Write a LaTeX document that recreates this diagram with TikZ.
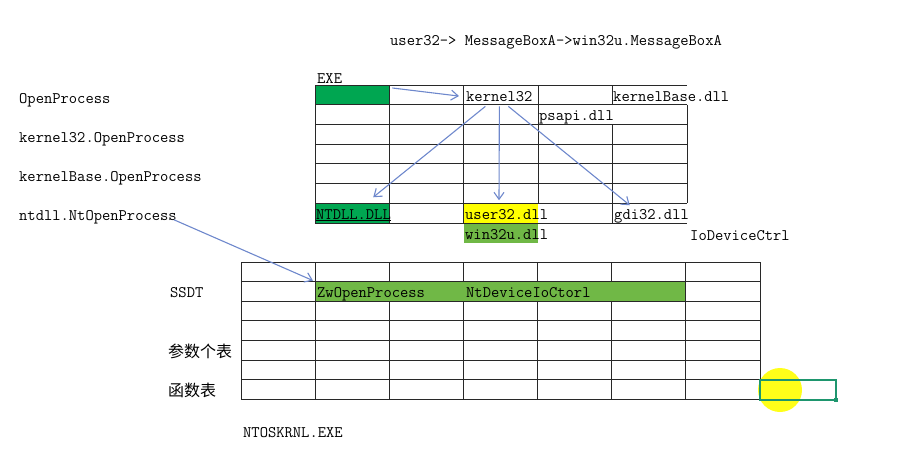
\documentclass[tikz,border=0pt]{standalone}
\usepackage{fontspec}
\newfontfamily\cjkfont{Noto Sans CJK SC}
\usetikzlibrary{positioning,
        arrows.meta,
        fit}
\usepackage{xcolor}
\definecolor{exegreen}{RGB}{0,166,81}
\definecolor{rowgreen}{RGB}{112,184,70}
\definecolor{hiyellow}{RGB}{255,255,0}
\definecolor{arrowblue}{RGB}{110,136,204}
\definecolor{selgreen}{RGB}{30,150,110}
\definecolor{gridgray}{RGB}{40,40,40}

\begin{document}
\begin{tikzpicture}[x=1pt,y=-1pt,
        cell/.style={minimum width=74.4pt,minimum height=19.7pt,inner sep=0pt,outer sep=0pt},
        txt/.style={anchor=base west,inner sep=0pt,font=\ttfamily\fontsize{16.1}{18}\selectfont},
        cjk/.style={anchor=base west,inner sep=0pt,font=\cjkfont\fontsize{16}{18}\selectfont},
        gridline/.style={draw=gridgray,line width=0.9pt},
        arr/.style={draw=arrowblue,line width=1.1pt,-{Straight Barb[length=7pt,width=10pt]}}]
        \useasboundingbox (0,0) rectangle (904,455);

        \node [cell,fill=exegreen] (exe) at (352.2,94.85) {};
        \node [cell,fill=exegreen] (ntdllcell) at (352.2,213.1) {};
        \node [cell,fill=hiyellow] (user32cell) at (501,213.1) {};
        \node [cell,fill=rowgreen] (win32ucell) at (501,232.8) {};
        \node [cell] (gdicell) at (649.8,213.1) {};
        \node [cell,fill=rowgreen,minimum width=370.8pt] (ssdtrow) at (500.5,291.45) {};
        \node [cell] (zwcell) at (352.2,291.45) {};

        \draw [gridline] (315,85) -- (687,85) (315,104.7) -- (687,104.7)
                (315,124.4) -- (687,124.4) (315,144.1) -- (687,144.1)
                (315,163.8) -- (687,163.8) (315,183.5) -- (687,183.5)
                (315,203.2) -- (687,203.2) (315,223) -- (687,223);
        \draw [gridline] (315,85) -- (315,223) (389.4,85) -- (389.4,223)
                (463.8,85) -- (463.8,223) (538.2,85) -- (538.2,203.2)
                (612.6,85) -- (612.6,104.7) (612.6,124.4) -- (612.6,223)
                (687,104.7) -- (687,203.2);

        \draw [gridline] (241,262) -- (760,262) (241,281.6) -- (760,281.6)
                (241,301.3) -- (760,301.3) (241,320.9) -- (760,320.9)
                (241,340.6) -- (760,340.6) (241,360.2) -- (760,360.2)
                (241,379.9) -- (760,379.9) (241,399.5) -- (760,399.5);
        \draw [gridline] (241,262) -- (241,399.5) (315.1,262) -- (315.1,399.5)
                (685.9,262) -- (685.9,399.5) (760,262) -- (760,399.5)
                (389.3,262) -- (389.3,281.6) (389.3,301.3) -- (389.3,399.5)
                (463.4,262) -- (463.4,281.6) (463.4,301.3) -- (463.4,399.5)
                (537.6,262) -- (537.6,281.6) (537.6,301.3) -- (537.6,399.5)
                (611.7,262) -- (611.7,281.6) (611.7,301.3) -- (611.7,399.5);

        \node [txt] (title) at (390,45) {user32-> MessageBoxA->win32u.MessageBoxA};
        \node [txt] (exelabel) at (317,83) {EXE};
        \node [txt] (k32) at (466,101) {kernel32};
        \node [txt] (kbase) at (613,101) {kernelBase.dll};
        \node [txt] (psapi) at (539,120) {psapi.dll};
        \node [txt] (ntdll) at (316,219) {\underline{NTDLL.DLL}};
        \node [txt] (user32) at (465,219) {user32.dll};
        \node [txt] (gdi32) at (614,219) {gdi32.dll};
        \node [txt] (win32u) at (465,239) {win32u.dll};
        \node [txt] (ioctl) at (690,240) {IoDeviceCtrl};

        \node [txt] (openp) at (19,103) {OpenProcess};
        \node [txt] (k32open) at (19,142) {kernel32.OpenProcess};
        \node [txt] (kbopen) at (19,181) {kernelBase.OpenProcess};
        \node [txt] (ntopen) at (19,220) {ntdll.NtOpenProcess};

        \node [txt] (ssdt) at (170,297) {SSDT};
        \node [cjk] (argtab) at (168,357) {参数个表};
        \node [cjk] (functab) at (168,396) {函数表};
        \node [txt] (zw) at (317,297) {ZwOpenProcess};
        \node [txt] (ntdev) at (466,297) {NtDeviceIoCtorl};
        \node [txt] (ntos) at (243,437) {NTOSKRNL.EXE};

        \draw [arr] ([xshift=3pt,yshift=-3pt]exe.north east) -- ([xshift=-7pt]k32.west);
        \draw [arr] ([xshift=-14pt,yshift=-5pt]k32.south) -- ([xshift=21pt,yshift=6pt]ntdllcell.north);
        \draw [arr] ([yshift=-5pt]k32.south) -- ([xshift=-2pt,yshift=3pt]user32cell.north);
        \draw [arr] ([xshift=9pt,yshift=-5pt]k32.south) -- ([xshift=-20pt,yshift=-2pt]gdicell.north);
        \draw [arr] ([xshift=-3pt,yshift=-3pt]ntopen.east) -- ([xshift=-2pt,yshift=1pt]zwcell.north west);

        \fill [hiyellow,opacity=0.9] (780,390) circle (22pt);
        \draw [selgreen,line width=2pt] (760,380) rectangle (836,399.5);
        \fill [selgreen] (834,397.5) rectangle (838,401.5);
    \end{tikzpicture}
\end{document}
